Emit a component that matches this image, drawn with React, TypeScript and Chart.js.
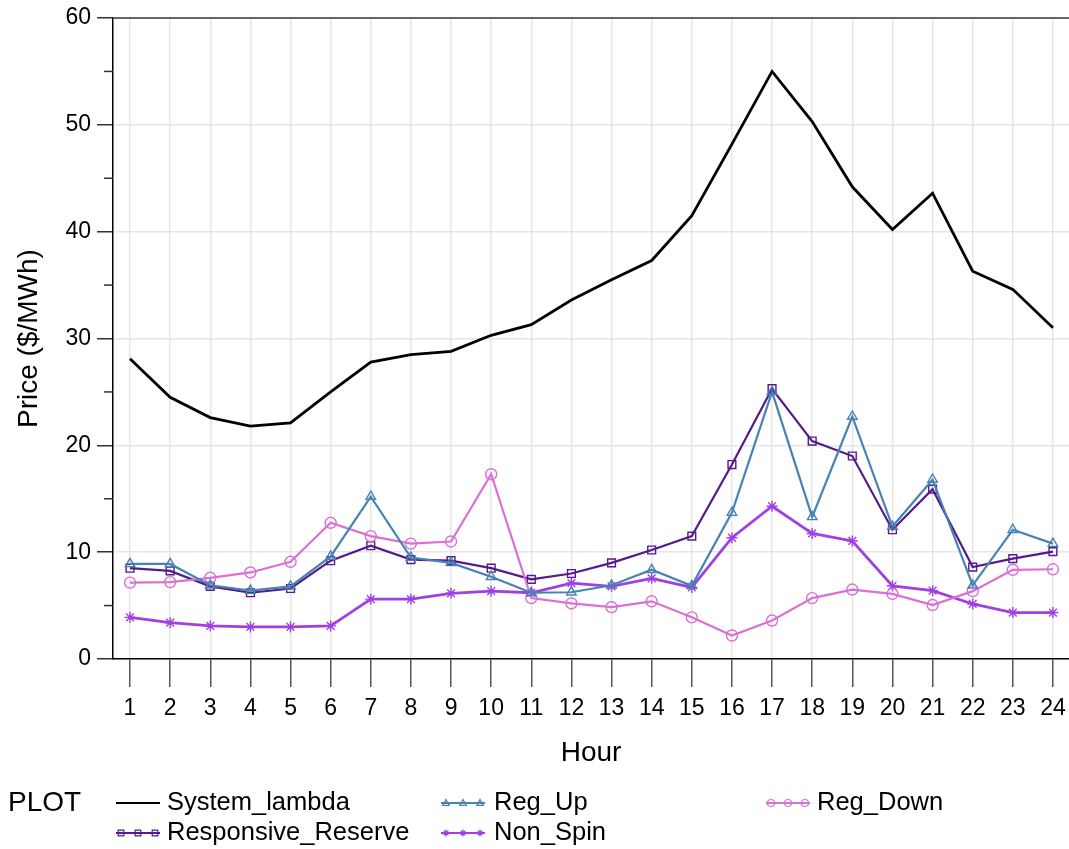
import React, { useEffect, useRef } from "react";
import { Chart, registerables } from "chart.js";

Chart.register(...registerables);

const hours = [1, 2, 3, 4, 5, 6, 7, 8, 9, 10, 11, 12, 13, 14, 15, 16, 17, 18, 19, 20, 21, 22, 23, 24];
const yTicks = [0, 10, 20, 30, 40, 50, 60];
const yMinorTicks = [5, 15, 25, 35, 45, 55];

const systemLambda = [28.1, 24.5, 22.6, 21.8, 22.1, 25.0, 27.8, 28.5, 28.8, 30.3, 31.3, 33.6, 35.5, 37.3, 41.5, 48.2, 55.0, 50.3, 44.2, 40.2, 43.6, 36.3, 34.6, 31.0];
const regUp = [8.9, 8.9, 6.9, 6.4, 6.8, 9.6, 15.2, 9.5, 9.0, 7.7, 6.2, 6.25, 6.9, 8.35, 6.85, 13.7, 25.0, 13.3, 22.7, 12.4, 16.8, 6.9, 12.1, 10.8];
const responsiveReserve = [8.5, 8.25, 6.8, 6.2, 6.6, 9.2, 10.6, 9.3, 9.2, 8.5, 7.45, 8.0, 9.0, 10.2, 11.5, 18.2, 25.3, 20.4, 19.0, 12.1, 15.9, 8.6, 9.4, 10.05];
const nonSpin = [3.9, 3.4, 3.1, 3.0, 3.0, 3.1, 5.6, 5.6, 6.15, 6.35, 6.2, 7.1, 6.8, 7.55, 6.7, 11.35, 14.3, 11.75, 11.05, 6.85, 6.4, 5.15, 4.35, 4.35];
const regDown = [7.15, 7.2, 7.6, 8.1, 9.1, 12.75, 11.5, 10.8, 11.0, 17.3, 5.7, 5.2, 4.85, 5.4, 3.9, 2.2, 3.6, 5.7, 6.5, 6.1, 5.05, 6.35, 8.35, 8.4];

const FONT = "'Liberation Sans', Arial, sans-serif";

type SeriesDef = {
  label: string;
  values: number[];
  color: string;
  width: number;
  marker: "none" | "triangle" | "rect" | "circle" | "star";
  col: number;
  row: number;
};

const series: SeriesDef[] = [
  { label: "System_lambda", values: systemLambda, color: "#000000", width: 2.8, marker: "none", col: 0, row: 0 },
  { label: "Reg_Up", values: regUp, color: "#4682B4", width: 2.2, marker: "triangle", col: 1, row: 0 },
  { label: "Reg_Down", values: regDown, color: "#DA70D6", width: 2.2, marker: "circle", col: 2, row: 0 },
  { label: "Responsive_Reserve", values: responsiveReserve, color: "#551A8B", width: 2.2, marker: "rect", col: 0, row: 1 },
  { label: "Non_Spin", values: nonSpin, color: "#A040E4", width: 2.8, marker: "star", col: 1, row: 1 },
];

function drawMarker(ctx: CanvasRenderingContext2D, kind: string, x: number, y: number, r: number) {
  ctx.beginPath();
  if (kind === "triangle") {
    ctx.moveTo(x, y - r);
    ctx.lineTo(x + r * 0.95, y + r * 0.7);
    ctx.lineTo(x - r * 0.95, y + r * 0.7);
    ctx.closePath();
  } else if (kind === "rect") {
    ctx.rect(x - r * 0.8, y - r * 0.8, r * 1.6, r * 1.6);
  } else if (kind === "circle") {
    ctx.arc(x, y, r, 0, Math.PI * 2);
  } else if (kind === "star") {
    ctx.moveTo(x - r, y);
    ctx.lineTo(x + r, y);
    ctx.moveTo(x, y - r);
    ctx.lineTo(x, y + r);
    ctx.moveTo(x - r * 0.7, y - r * 0.7);
    ctx.lineTo(x + r * 0.7, y + r * 0.7);
    ctx.moveTo(x + r * 0.7, y - r * 0.7);
    ctx.lineTo(x - r * 0.7, y + r * 0.7);
  }
  ctx.stroke();
}

const decorPlugin = {
  id: "decor",
  afterDraw(chart: any) {
    const { ctx, chartArea, scales } = chart;
    const y = scales.y;
    ctx.save();
    // minor y ticks
    ctx.strokeStyle = "#333333";
    ctx.lineWidth = 1.5;
    for (const v of yMinorTicks) {
      const py = y.getPixelForValue(v);
      ctx.beginPath();
      ctx.moveTo(chartArea.left - 9, py);
      ctx.lineTo(chartArea.left, py);
      ctx.stroke();
    }
    // top frame line
    ctx.strokeStyle = "#666666";
    ctx.lineWidth = 2;
    ctx.beginPath();
    ctx.moveTo(chartArea.left, chartArea.top);
    ctx.lineTo(chartArea.right, chartArea.top);
    ctx.stroke();

    // legend
    const colSample = [116, 441, 766];
    const colText = [167, 494, 817];
    const rowY = [803, 833];
    ctx.fillStyle = "#000000";
    ctx.textBaseline = "middle";
    ctx.textAlign = "left";
    ctx.font = `28px ${FONT}`;
    ctx.fillText("PLOT", 8, rowY[0]);
    ctx.font = `25.5px ${FONT}`;
    for (const s of series) {
      const x0 = colSample[s.col];
      const yy = rowY[s.row];
      ctx.strokeStyle = s.color;
      ctx.lineWidth = 2;
      ctx.beginPath();
      ctx.moveTo(x0, yy);
      ctx.lineTo(x0 + 44, yy);
      ctx.stroke();
      if (s.marker !== "none") {
        ctx.lineWidth = 1.2;
        for (const dx of [5, 22, 39]) drawMarker(ctx, s.marker, x0 + dx, yy, 3.5);
      }
      ctx.fillStyle = "#000000";
      ctx.fillText(s.label, colText[s.col], yy);
    }
    ctx.restore();
  },
};

export default function App() {
  const ref = useRef<HTMLCanvasElement | null>(null);
  useEffect(() => {
    if (!ref.current) return;
    const datasets = series.map((s) => ({
      label: s.label,
      data: hours.map((h, i) => ({ x: h, y: s.values[i] })),
      borderColor: s.color,
      backgroundColor: "rgba(0,0,0,0)",
      borderWidth: s.width,
      pointStyle: s.marker === "none" ? "circle" : s.marker,
      pointRadius: s.marker === "none" ? 0 : 5.5,
      pointBorderWidth: 1.4,
      pointBorderColor: s.color,
      pointBackgroundColor: "rgba(0,0,0,0)",
      tension: 0,
      fill: false,
    }));
    const chart = new Chart(ref.current, {
      type: "line",
      data: { datasets },
      plugins: [decorPlugin],
      options: {
        animation: false,
        responsive: false,
        devicePixelRatio: 1,
        layout: { autoPadding: false, padding: { top: 18, right: 0, bottom: 79, left: 0 } },
        plugins: { legend: { display: false }, tooltip: { enabled: false } },
        scales: {
          x: {
            type: "linear",
            min: 0.576,
            max: 24.4,
            afterBuildTicks: (s: any) => {
              s.ticks = hours.map((h) => ({ value: h }));
            },
            afterFit: (s: any) => {
              s.height = 111;
              s.paddingLeft = 0;
              s.paddingRight = 0;
            },
            ticks: {
              autoSkip: false,
              maxRotation: 0,
              padding: 8,
              color: "#000000",
              font: { family: FONT, size: 23 },
              callback: (v: any) => String(v),
            },
            grid: {
              color: "#e6e6e6",
              lineWidth: 1.5,
              tickLength: 28,
              tickColor: "#555555",
              tickWidth: 1.5,
            },
            border: { display: true, color: "#000000", width: 1.5 },
            title: {
              display: true,
              text: "Hour",
              color: "#000000",
              font: { family: FONT, size: 28 },
              padding: { top: 0, bottom: 0 },
            },
          },
          y: {
            type: "linear",
            min: 0,
            max: 60,
            afterBuildTicks: (s: any) => {
              s.ticks = yTicks.map((v) => ({ value: v }));
            },
            afterFit: (s: any) => {
              s.width = 113;
              s.paddingTop = 0;
              s.paddingBottom = 0;
            },
            ticks: {
              padding: 6,
              color: "#000000",
              font: { family: FONT, size: 23 },
            },
            grid: {
              color: "#e6e6e6",
              lineWidth: 1.5,
              tickLength: 16,
              tickColor: "#333333",
              tickWidth: 1.5,
            },
            border: { display: true, color: "#000000", width: 1.5 },
            title: {
              display: true,
              text: "Price ($/MWh)",
              color: "#000000",
              font: { family: FONT, size: 28 },
              padding: { top: 12, bottom: 0 },
            },
          },
        },
      },
    } as any);
    return () => chart.destroy();
  }, []);
  return (
    <div style={{ position: "fixed", left: 0, top: 0, width: 1069, height: 849, background: "#ffffff" }}>
      <canvas ref={ref} width={1069} height={849} style={{ display: "block" }} />
    </div>
  );
}
